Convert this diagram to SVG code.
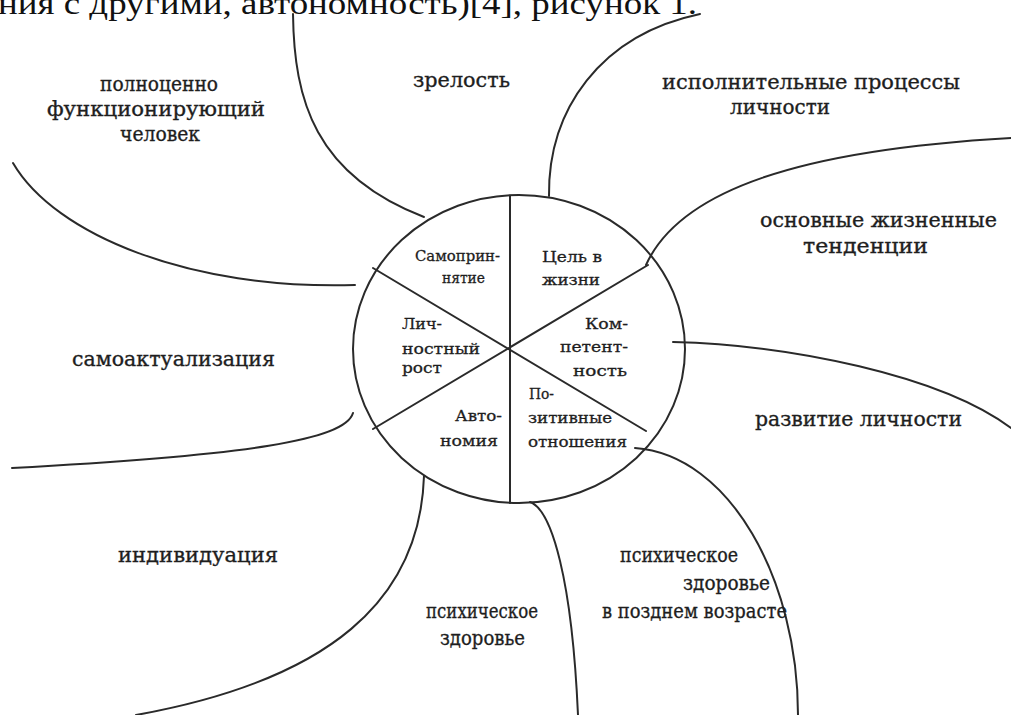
<svg xmlns="http://www.w3.org/2000/svg" width="1011" height="715" viewBox="0 0 1011 715">
<style>
.bg{fill:#ffffff}
.ln{fill:none;stroke:#2a2a2a;stroke-width:2;stroke-linecap:round}
.lb{font-family:"DejaVu Serif","Liberation Serif",serif;font-size:21px;fill:#1e1e1e;stroke:#1e1e1e;stroke-width:0.35}
.in{font-family:"DejaVu Serif","Liberation Serif",serif;font-size:15px;fill:#1e1e1e;stroke:#1e1e1e;stroke-width:0.3}
.hd{font-family:"Liberation Serif","Times New Roman",serif;font-size:32px;fill:#111111}
</style>
<rect class="bg" x="0" y="0" width="1011" height="715"/>
<text class="hd" x="-2" y="14" textLength="699" lengthAdjust="spacingAndGlyphs">ния с другими, автономность)[4], рисунок 1.</text>

<g id="connectors">
<path class="ln" d="M293,14 C294,100 315,175 424,217"/>
<path class="ln" d="M549,196 C548,110 600,35 700,14"/>
<path class="ln" d="M646,265 C680,190 800,150 1011,138"/>
<path class="ln" d="M673,342 C790,345 940,375 1011,428"/>
<path class="ln" d="M635,448 C730,455 798,580 798,715"/>
<path class="ln" d="M530,502 C552,510 572,580 578,715"/>
<path class="ln" d="M424,476 C420,600 330,680 136,715"/>
<path class="ln" d="M353,413 C345,440 250,455 12,468"/>
<path class="ln" d="M13,163 C55,235 190,290 355,285"/>
</g>

<g id="center">
<ellipse class="ln" cx="519" cy="349" rx="166" ry="154"/>
<line class="ln" x1="510" y1="196" x2="510" y2="503"/>
<line class="ln" x1="373" y1="268" x2="646" y2="431"/>
<line class="ln" x1="648" y1="265" x2="373" y2="429"/>
</g>

<g id="sector-samoprinyatie"><text class="in" x="415" y="261" textLength="85" lengthAdjust="spacingAndGlyphs">Самоприн-</text><text class="in" x="442" y="283" textLength="43" lengthAdjust="spacingAndGlyphs">нятие</text></g>
<g id="sector-tsel"><text class="in" x="542" y="262" textLength="60" lengthAdjust="spacingAndGlyphs">Цель в</text><text class="in" x="542" y="285" textLength="58" lengthAdjust="spacingAndGlyphs">жизни</text></g>
<g id="sector-rost"><text class="in" x="402" y="329" textLength="40" lengthAdjust="spacingAndGlyphs">Лич-</text><text class="in" x="402" y="354" textLength="78" lengthAdjust="spacingAndGlyphs">ностный</text><text class="in" x="402" y="373" textLength="40" lengthAdjust="spacingAndGlyphs">рост</text></g>
<g id="sector-kompetentnost"><text class="in" x="585" y="329" textLength="43" lengthAdjust="spacingAndGlyphs">Ком-</text><text class="in" x="560" y="352" textLength="68" lengthAdjust="spacingAndGlyphs">петент-</text><text class="in" x="573" y="376" textLength="54" lengthAdjust="spacingAndGlyphs">ность</text></g>
<g id="sector-otnosheniya"><text class="in" x="529" y="399" textLength="25" lengthAdjust="spacingAndGlyphs">По-</text><text class="in" x="528" y="423" textLength="84" lengthAdjust="spacingAndGlyphs">зитивные</text><text class="in" x="528" y="447" textLength="99" lengthAdjust="spacingAndGlyphs">отношения</text></g>
<g id="sector-avtonomiya"><text class="in" x="455" y="421" textLength="47" lengthAdjust="spacingAndGlyphs">Авто-</text><text class="in" x="440" y="446" textLength="58" lengthAdjust="spacingAndGlyphs">номия</text></g>

<g id="label-polnotsenno"><text class="lb" x="100" y="91" textLength="118" lengthAdjust="spacingAndGlyphs">полноценно</text><text class="lb" x="47" y="116" textLength="218" lengthAdjust="spacingAndGlyphs">функционирующий</text><text class="lb" x="120" y="141" textLength="80" lengthAdjust="spacingAndGlyphs">человек</text></g>
<g id="label-zrelost"><text class="lb" x="413" y="87" textLength="97" lengthAdjust="spacingAndGlyphs">зрелость</text></g>
<g id="label-ispolnitelnye"><text class="lb" x="662" y="89" textLength="298" lengthAdjust="spacingAndGlyphs">исполнительные процессы</text><text class="lb" x="730" y="114" textLength="100" lengthAdjust="spacingAndGlyphs">личности</text></g>
<g id="label-osnovnye"><text class="lb" x="760" y="227" textLength="237" lengthAdjust="spacingAndGlyphs">основные жизненные</text><text class="lb" x="803" y="253" textLength="125" lengthAdjust="spacingAndGlyphs">тенденции</text></g>
<g id="label-razvitie"><text class="lb" x="755" y="426" textLength="207" lengthAdjust="spacingAndGlyphs">развитие личности</text></g>
<g id="label-samoaktualizatsiya"><text class="lb" x="72" y="366" textLength="203" lengthAdjust="spacingAndGlyphs">самоактуализация</text></g>
<g id="label-individuatsiya"><text class="lb" x="118" y="562" textLength="160" lengthAdjust="spacingAndGlyphs">индивидуация</text></g>
<g id="label-pozdniy"><text class="lb" x="620" y="562" textLength="118" lengthAdjust="spacingAndGlyphs">психическое</text><text class="lb" x="683" y="590" textLength="87" lengthAdjust="spacingAndGlyphs">здоровье</text><text class="lb" x="602" y="618" textLength="185" lengthAdjust="spacingAndGlyphs">в позднем возрасте</text></g>
<g id="label-psikh"><text class="lb" x="426" y="618" textLength="112" lengthAdjust="spacingAndGlyphs">психическое</text><text class="lb" x="440" y="645" textLength="85" lengthAdjust="spacingAndGlyphs">здоровье</text></g>
</svg>
